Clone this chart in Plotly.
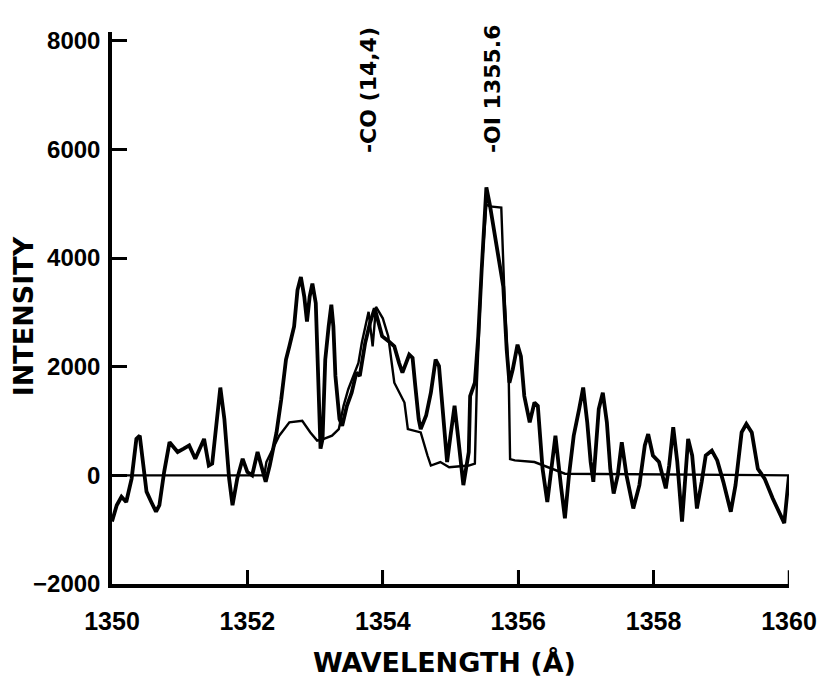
import plotly.graph_objects as go

# Observed spectrum (thick line)
wl_obs = [1350.00, 1350.07, 1350.14, 1350.21, 1350.29, 1350.36, 1350.41, 1350.46, 1350.51, 1350.58,
          1350.65, 1350.70, 1350.77, 1350.85, 1350.97, 1351.06, 1351.14, 1351.23, 1351.36, 1351.43,
          1351.48, 1351.60, 1351.66, 1351.73, 1351.78, 1351.85, 1351.93, 1352.00, 1352.07, 1352.15,
          1352.20, 1352.27, 1352.33, 1352.43, 1352.50, 1352.57, 1352.62, 1352.69, 1352.74, 1352.79,
          1352.84, 1352.88, 1352.92, 1352.96, 1353.01, 1353.06, 1353.08, 1353.11, 1353.15, 1353.20,
          1353.24, 1353.27, 1353.30, 1353.36, 1353.40, 1353.47, 1353.54, 1353.61, 1353.66, 1353.74,
          1353.81, 1353.88, 1353.95, 1353.99, 1354.09, 1354.17, 1354.24, 1354.29, 1354.39, 1354.44,
          1354.48, 1354.53, 1354.56, 1354.64, 1354.71, 1354.78, 1354.83, 1354.88, 1354.95, 1355.00,
          1355.06, 1355.11, 1355.19, 1355.27, 1355.29, 1355.36, 1355.41, 1355.46, 1355.51, 1355.53,
          1355.58, 1355.66, 1355.73, 1355.78, 1355.83, 1355.87, 1355.92, 1355.99, 1356.04, 1356.09,
          1356.17, 1356.24, 1356.29, 1356.36, 1356.43, 1356.51, 1356.55, 1356.63, 1356.69, 1356.75,
          1356.82, 1356.90, 1356.96, 1357.02, 1357.07, 1357.11, 1357.19, 1357.25, 1357.31, 1357.36,
          1357.41, 1357.47, 1357.53, 1357.60, 1357.70, 1357.79, 1357.87, 1357.92, 1357.99, 1358.08,
          1358.18, 1358.23, 1358.29, 1358.35, 1358.42, 1358.46, 1358.51, 1358.57, 1358.64, 1358.71,
          1358.77, 1358.86, 1358.94, 1359.03, 1359.14, 1359.21, 1359.30, 1359.37, 1359.45, 1359.54,
          1359.64, 1359.76, 1359.93, 1360.00]
int_obs = [-850, -550, -395, -490, -60, 670, 730, 245, -300, -490,
           -670, -550, 60, 610, 430, 490, 550, 305, 670, 180,
           215, 1615, 1035, -60, -550, -60, 305, 60, 0, 430,
           180, -120, 180, 790, 1400, 2130, 2375, 2740, 3410, 3650,
           3290, 2830, 3290, 3530, 3170, 1520, 490, 670, 2130, 2740,
           3140, 2740, 1830, 1035, 910, 1280, 1520, 1890, 1830, 2440,
           2800, 3075, 2740, 2560, 2465, 2375, 2070, 1890, 2220, 2160,
           1645, 1035, 850, 1100, 1520, 2130, 2010, 1220, 245, 730,
           1280, 730, -180, 430, 1460, 1705, 2560, 3775, 4990, 5300,
           4990, 4380, 3900, 3470, 2315, 1705, 1950, 2405, 2190, 1460,
           975, 1340, 1280, 120, -490, 245, 730, -180, -790, 0,
           730, 1220, 1615, 975, 245, -120, 1220, 1520, 975, 120,
           -335, 0, 610, 0, -610, -180, 550, 760, 365, 245,
           -240, 180, 885, 245, -850, -180, 670, 365, -610, -120,
           365, 455, 275, -120, -670, -180, 790, 945, 790, 120,
           -60, -425, -880, 0]

# Model spectrum (thin line)
wl_mod = [1350.00, 1352.25, 1352.28, 1352.47, 1352.62, 1352.81, 1352.93, 1353.03, 1353.13, 1353.25,
          1353.35, 1353.42, 1353.49, 1353.57, 1353.64, 1353.69, 1353.74, 1353.79, 1353.85, 1353.90,
          1354.00, 1354.08, 1354.17, 1354.32, 1354.37, 1354.49, 1354.56, 1354.66, 1354.71, 1354.85,
          1354.98, 1355.27, 1355.36, 1355.39, 1355.46, 1355.53, 1355.58, 1355.75, 1355.80, 1355.86,
          1355.88, 1355.95, 1356.24, 1356.69, 1360.00]
int_mod = [0, 0, 245, 730, 975, 1005, 790, 640, 670, 730,
           850, 1280, 1585, 1830, 2070, 2440, 2740, 3010, 2375, 3100,
           2890, 2560, 1705, 1340, 850, 820, 790, 365, 180, 245,
           150, 180, 215, 1705, 3775, 4990, 4950, 4930, 3200, 1800,
           300, 275, 245, 30, 0]

x_ticks = [1350, 1352, 1354, 1356, 1358, 1360]
y_ticks = [-2000, 0, 2000, 4000, 6000, 8000]

line_labels = ["-CO (14,4)", "-OI 1355.6"]
line_positions = [1353.80, 1355.61]

FONT_TXT = "DejaVu Sans"
FONT_NUM = "Liberation Sans"

fig = go.Figure()
fig.add_trace(go.Scatter(x=wl_mod, y=int_mod, mode="lines",
                         line=dict(color="black", width=2.4), showlegend=False))
fig.add_trace(go.Scatter(x=wl_obs, y=int_obs, mode="lines",
                         line=dict(color="black", width=3.8), showlegend=False))

for txt, xp in zip(line_labels, line_positions):
    fig.add_annotation(x=xp, y=5900, xref="x", yref="y", text=txt, textangle=-90,
                       showarrow=False, xanchor="center", yanchor="bottom",
                       font=dict(family=FONT_TXT, size=22, color="black", weight="bold"))

fig.add_annotation(x=0.491, y=0, xref="paper", yref="paper", text="WAVELENGTH (Å)",
                   showarrow=False, xanchor="center", yanchor="middle", yshift=-78,
                   font=dict(family=FONT_TXT, size=27, color="black", weight="bold"))
fig.add_annotation(x=0, y=0.485, xref="paper", yref="paper", text="INTENSITY",
                   showarrow=False, textangle=-90, xanchor="center", yanchor="middle", xshift=-89,
                   font=dict(family=FONT_TXT, size=27, color="black", weight="bold"))

fig.update_layout(
    width=829, height=687,
    margin=dict(l=112, r=32, t=32, b=103),
    paper_bgcolor="white", plot_bgcolor="white",
    font=dict(family=FONT_NUM, color="black"),
)
fig.update_xaxes(range=[1350, 1360], tickmode="array", tickvals=x_ticks,
                 ticktext=[str(v) for v in x_ticks],
                 ticks="inside", ticklen=14, tickwidth=3,
                 tickcolor="black", showline=True, linewidth=3.5, linecolor="black",
                 showgrid=False, zeroline=False, ticklabelstandoff=12,
                 tickfont=dict(family=FONT_NUM, size=25, color="black", weight="bold"),
                 layer="above traces")
fig.update_yaxes(range=[-2000, 8160], tickvals=y_ticks, ticks="inside", ticklen=15, tickwidth=2.5,
                 tickcolor="black", showline=True, linewidth=3.5, linecolor="black",
                 showgrid=False, zeroline=False, ticklabelstandoff=3,
                 tickfont=dict(family=FONT_NUM, size=24, color="black", weight="bold"))

# explicit tick marks on the x axis (drawn from the tick values)
for v in x_ticks[1:]:
    fig.add_shape(type="line", xref="x", yref="paper", x0=v, x1=v, y0=0, y1=0.025,
                  line=dict(color="black", width=2.5), layer="above")

fig.write_html("out.html")
